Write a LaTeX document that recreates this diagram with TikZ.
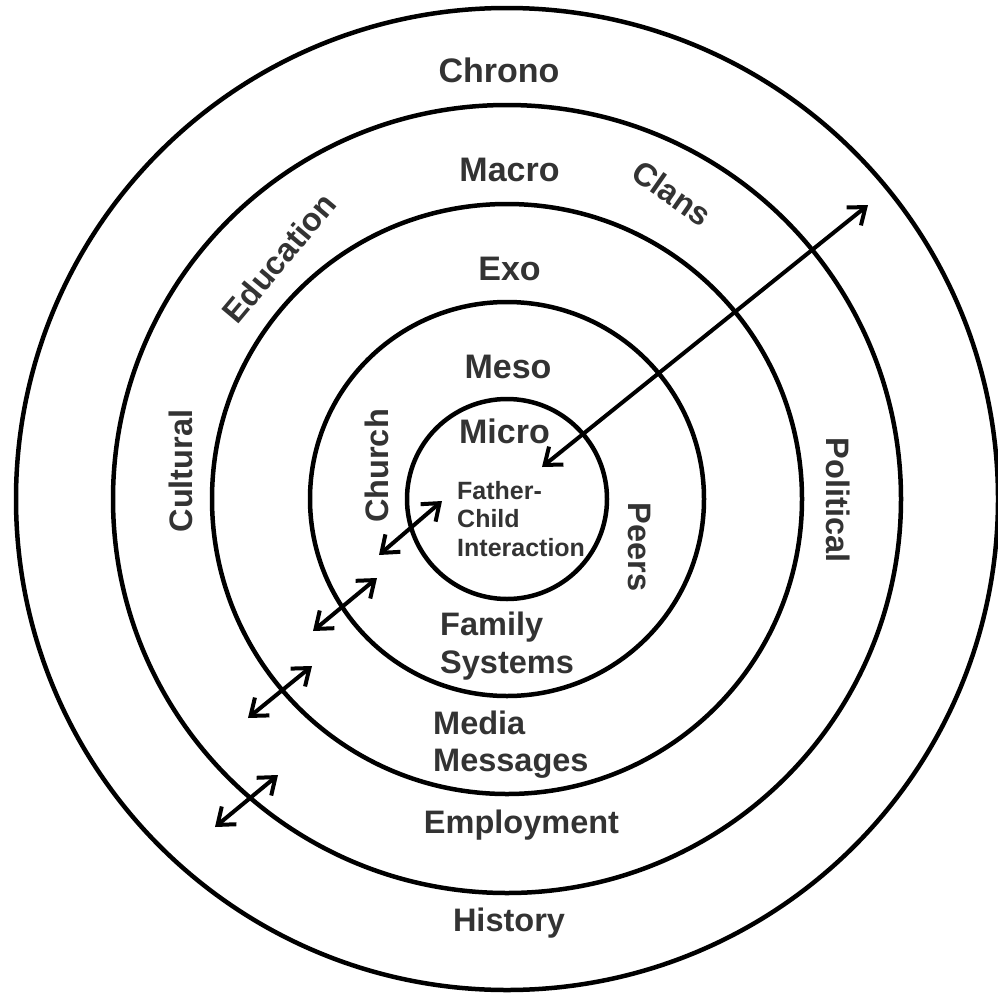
\documentclass[tikz,border=0pt]{standalone}
\usepackage{fontspec}
\setmainfont{Liberation Sans}
\usetikzlibrary{arrows.meta}
\definecolor{txt}{HTML}{333333}
\begin{document}
\begin{tikzpicture}[x=1pt,y=-1pt,
  ring/.style={draw=black,line width=4.5pt},
  lvl/.style={font=\fontsize{34}{40}\selectfont\bfseries,text=txt,inner sep=0pt},
  lab/.style={font=\fontsize{32.5}{38}\selectfont\bfseries,text=txt,inner sep=0pt},
  smalltxt/.style={font=\fontsize{25}{29}\selectfont\bfseries,text=txt,inner sep=0pt},
  link/.style={draw=black,line width=4pt,{Straight Barb[length=15pt,width=23pt]}-{Straight Barb[length=15pt,width=23pt]}}]
\useasboundingbox[fill=white] (0,0) rectangle (998,993);
\coordinate (C) at (507,499);
% rings
\draw[ring] (C) circle[radius=100];
\draw[ring] (C) circle[radius=197];
\draw[ring] (C) circle[radius=295];
\draw[ring] (C) circle[radius=394];
\draw[ring] (C) circle[radius=491];
% level names
\node[lvl,anchor=base] (chrono) at (499,82.7) {Chrono};
\node[lvl,anchor=base] (macro) at (509.5,181.7) {Macro};
\node[lvl,anchor=base] (exo) at (509.5,280) {Exo};
\node[lvl,anchor=base] (meso) at (508,378) {Meso};
\node[lvl,anchor=base] (micro) at (504.5,443) {Micro};
% centre text
\node[smalltxt,anchor=base west] (fc1) at (457,499.3) {Father-};
\node[smalltxt,anchor=base west] (fc2) at (457,527) {Child};
\node[smalltxt,anchor=base west] (fc3) at (457,556.7) {Interaction};
% labels
\node[lab,anchor=base west] (fam1) at (440,635) {Family};
\node[lab,anchor=base west] (fam2) at (440,673) {Systems};
\node[lab,anchor=base west] (med1) at (433,734) {Media};
\node[lab,anchor=base west] (med2) at (433,771) {Messages};
\node[lab,anchor=base] (emp) at (521.5,833) {Employment};
\node[lab,anchor=base] (hist) at (509,931) {History};
\node[lab,rotate=90] (church) at (377,466) {Church};
\node[lab,rotate=90] (cult) at (181,471) {Cultural};
\node[lab,rotate=-90] (peers) at (640,547) {Peers};
\node[lab,rotate=-90] (pol) at (838,500) {Political};
\node[lab,rotate=50] (edu) at (279,258) {Education};
\node[lab,rotate=-35] (clans) at (672,193) {Clans};
% arrows
\coordinate (L1) at (542,467); \coordinate (L2) at (868,205);
\coordinate (a1s) at (379,555); \coordinate (a1e) at (442,501);
\coordinate (a2s) at (313,631); \coordinate (a2e) at (377,578);
\coordinate (a3s) at (248,718); \coordinate (a3e) at (312,666);
\coordinate (a4s) at (215,827); \coordinate (a4e) at (278,775);
\draw[link] (L1) -- (L2);
\draw[link] (a1s) -- (a1e);
\draw[link] (a2s) -- (a2e);
\draw[link] (a3s) -- (a3e);
\draw[link] (a4s) -- (a4e);
\end{tikzpicture}
\end{document}
